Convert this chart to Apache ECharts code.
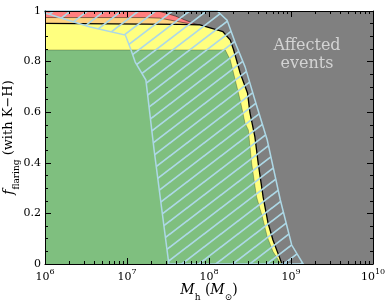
<!DOCTYPE html>
<html><head><meta charset="utf-8">
<script src="https://cdn.jsdelivr.net/npm/echarts@6/dist/echarts.min.js"></script>
<style>html,body{margin:0;padding:0;background:#fff}#c{width:391px;height:306px}</style>
</head><body><div id="c"></div>
<script>
// Data: [halo mass M_h (M_sun), f_flaring]
const redTop = [[1e6,1.0],[2.51e7,0.998],[2.95e7,0.992],[3.89e7,0.98],[5.13e7,0.964],[6.76e7,0.949],[7.76e7,0.945]];
const orangeTop = [[1e6,0.974],[1.66e7,0.974],[2.51e7,0.972],[3.89e7,0.96],[5.89e7,0.949],[7.76e7,0.945]];
const yellowTop = [[1e6,0.951],[4.47e7,0.947],[7.76e7,0.945],[1.48e8,0.918],[1.82e8,0.885],[2.0e8,0.846],[2.40e8,0.755],[2.95e8,0.676],[3.16e8,0.597],[3.63e8,0.502],[3.98e8,0.399],[4.57e8,0.265],[5.25e8,0.162],[6.03e8,0.095],[6.92e8,0.043],[7.76e8,0.0]];
const greenTop = [[1e6,0.846],[1.58e8,0.846],[1.82e8,0.806],[2.09e8,0.727],[2.40e8,0.648],[2.75e8,0.557],[3.02e8,0.53],[3.31e8,0.399],[3.80e8,0.266],[4.47e8,0.187],[5.13e8,0.108],[6.03e8,0.049],[7.24e8,0.009],[7.5e8,0.0]];
const hatchRegion = [[1e6,0.992],[3.55e6,0.937],[9.55e6,0.905],[1.12e7,0.846],[1.26e7,0.798],[1.70e7,0.727],[2.14e7,0.451],[3.24e7,0.0],[1.41e9,0.0],[1.02e9,0.075],[7.41e8,0.253],[5.13e8,0.49],[3.63e8,0.648],[2.75e8,0.78],[2.09e8,0.874],[1.66e8,0.964],[1.26e8,1.0],[1e6,1.0]];
const xMajorTicks = [1e6,1e7,1e8,1e9,1e10];
const xMinorMantissas = [2,3,4,5,6,7,8,9];
const xMinorDecades = [1e6,1e7,1e8,1e9];
const annotation = ['Affected','events'];

const xMinorTicks = [];
xMinorDecades.forEach(d => xMinorMantissas.forEach(m => xMinorTicks.push(m*d)));

// hatch pattern tile
const TW = 17, TH = 13;
const hc = document.createElement('canvas');
hc.width = TW; hc.height = TH;
const hx = hc.getContext('2d');
hx.strokeStyle = '#add8e6'; hx.lineWidth = 1.7;
hx.beginPath();
hx.moveTo(-TW/TH, TH+1); hx.lineTo(TW+TW/TH, -1);
hx.moveTo(-TW, TH); hx.lineTo(0, 0); hx.lineTo(TW*0.15, -TH*0.15);
hx.moveTo(TW - TW*0.15, TH + TH*0.15); hx.lineTo(TW, TH); hx.lineTo(2*TW, 0);
hx.stroke();

const serif = 'DejaVu Serif';
const chart = echarts.init(document.getElementById('c'), null, {renderer:'canvas'});
const xBase = {type:'log', logBase:10, min:1e6, max:1e10, splitLine:{show:false}, z:20,
  axisLine:{show:true, onZero:false, lineStyle:{color:'#000', width:1}}};
const yBase = {type:'value', min:0, max:1, interval:0.2, splitLine:{show:false}, z:20,
  axisLine:{show:true, onZero:false, lineStyle:{color:'#000', width:1}},
  axisTick:{show:true, inside:true, length:6, lineStyle:{color:'#000'}},
  minorTick:{show:true, splitNumber:4, length:3, lineStyle:{color:'#000'}}};

function area(data, color, line, z){
  return {type:'line', data:data, xAxisIndex:0, yAxisIndex:0, showSymbol:false, symbol:'none', z:z,
    lineStyle:line, areaStyle:{color:color, opacity:1, origin:'start'}, silent:true, animation:false};
}

chart.setOption({
  animation:false,
  grid:{left:45, right:18, top:11, bottom:42, show:true, backgroundColor:'#808080', borderWidth:0,
    containLabel:false, outerBoundsMode:'none'},
  xAxis:[
    Object.assign({}, xBase, {position:'bottom',
      axisTick:{show:true, inside:true, length:6, customValues:xMajorTicks, lineStyle:{color:'#000'}},
      axisLabel:{show:true, customValues:xMajorTicks, margin:4, color:'#000',
        formatter:function(v){ return '{b|10}{s|' + Math.round(Math.log10(v)) + '}'; },
        rich:{b:{fontFamily:serif, fontSize:11, lineHeight:15, verticalAlign:'bottom', color:'#000'},
              s:{fontFamily:serif, fontSize:8, lineHeight:8, verticalAlign:'top', color:'#000'}}},
      name:'{i|M}{sub|h}{t| (}{i|M}{sub|⊙}{t|)}', nameLocation:'middle', nameGap:19, nameMoveOverlap:false,
      nameTextStyle:{fontFamily:serif, fontSize:14, color:'#000',
        rich:{i:{fontFamily:serif, fontStyle:'italic', fontSize:14, lineHeight:14, verticalAlign:'top', color:'#000'},
              t:{fontFamily:serif, fontSize:14, lineHeight:14, verticalAlign:'top', color:'#000'},
              sub:{fontFamily:serif, fontSize:9, lineHeight:19, verticalAlign:'bottom', color:'#000'}}}}),
    Object.assign({}, xBase, {position:'bottom', axisLine:{show:false, onZero:false},
      axisTick:{show:true, inside:true, length:3, customValues:xMinorTicks, lineStyle:{color:'#000'}},
      axisLabel:{show:false}}),
    Object.assign({}, xBase, {position:'top',
      axisTick:{show:true, inside:true, length:6, customValues:xMajorTicks, lineStyle:{color:'#000'}},
      axisLabel:{show:false}}),
    Object.assign({}, xBase, {position:'top', axisLine:{show:false, onZero:false},
      axisTick:{show:true, inside:true, length:3, customValues:xMinorTicks, lineStyle:{color:'#000'}},
      axisLabel:{show:false}})
  ],
  yAxis:[
    Object.assign({}, yBase, {position:'left',
      axisLabel:{show:true, margin:4, fontFamily:serif, fontSize:11, color:'#000',
        formatter:function(v){ return v===0?'0':(v===1?'1':v.toFixed(1)); }},
      name:'{i|f}{sub|flaring}{t| (with K−H)}', nameLocation:'middle', nameGap:24, nameRotate:90, nameMoveOverlap:false,
      nameTextStyle:{fontFamily:serif, fontSize:13, color:'#000',
        rich:{i:{fontFamily:serif, fontStyle:'italic', fontSize:14, lineHeight:14, verticalAlign:'top', color:'#000'},
              t:{fontFamily:serif, fontSize:13, lineHeight:14, verticalAlign:'top', color:'#000'},
              sub:{fontFamily:serif, fontSize:9, lineHeight:19, verticalAlign:'bottom', color:'#000'}}}}),
    Object.assign({}, yBase, {position:'right', axisLabel:{show:false}})
  ],
  graphic:[{type:'text', x:307, y:37, silent:true, z:30,
    style:{text:annotation.join('\n'), font:'16px "DejaVu Serif"', fill:'#d3d3d3', align:'center', verticalAlign:'top', lineHeight:18}}],
  series:[
    area(redTop, '#ff7f7f', {color:'rgba(0,0,0,0.6)', width:0.8}, 2),
    area(orangeTop, '#ffd27f', {color:'rgba(0,0,0,0.6)', width:0.8}, 3),
    area(yellowTop, '#ffff7f', {color:'#000', width:1.3}, 4),
    area(greenTop, '#7fbf7f', {color:'rgba(0,0,0,0.35)', width:0.7}, 5),
    {type:'custom', xAxisIndex:0, yAxisIndex:0, data:hatchRegion, silent:true, animation:false, z:10,
      renderItem:function(params, api){
        if (params.dataIndex !== 0) return null;
        const pts = hatchRegion.map(p => api.coord(p));
        return {type:'polygon', shape:{points:pts},
          style:{fill:{image:hc, repeat:'repeat'}, stroke:'#add8e6', lineWidth:1.5}};
      }}
  ]
});
</script>
</body></html>
